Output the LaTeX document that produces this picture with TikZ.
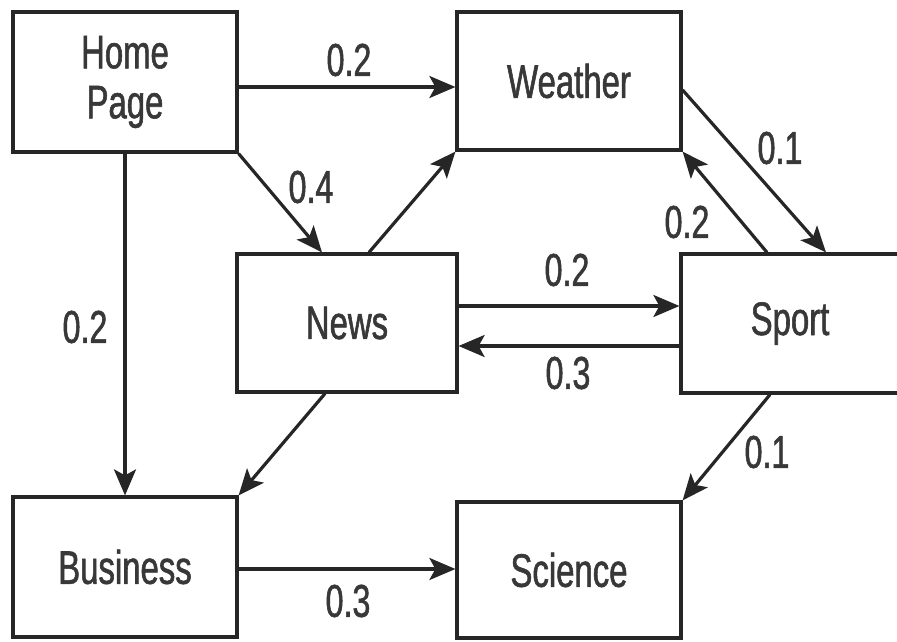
\documentclass[tikz,border=0pt]{standalone}
\usepackage{fontspec}
\setmainfont[FakeStretch=0.7,FakeBold=1.2]{Liberation Sans}
\usetikzlibrary{arrows.meta}
\definecolor{ink}{HTML}{262626}
\definecolor{txt}{HTML}{383838}
\tikzset{
  box/.style={draw=ink, line width=3.2pt, minimum width=#1, inner sep=0pt, text=txt,
    font=\fontsize{47}{50}\selectfont, align=center},
  box/.default=224pt,
  arr/.style={draw=ink, line width=3.2pt, -{Stealth[length=26pt,width=22pt,inset=6pt]}},
  lbl/.style={text=txt, font=\fontsize{46}{48}\selectfont, inner sep=0pt}
}
\begin{document}
\begin{tikzpicture}[x=1pt,y=-1pt]
\useasboundingbox (0,0) rectangle (897,642);
\fill[white] (0,0) rectangle (897,642);
\node[box, minimum height=140pt] (home) at (125,82) {Home\\Page};
\node[box, minimum height=138pt] (weather) at (569,81) {Weather};
\node[box=220pt, minimum height=138pt] (news) at (347,323) {News};
\node[box=218pt, minimum height=139pt] (sport) at (790,323.5) {Sport};
\node[box, minimum height=140pt] (business) at (125,567) {Business};
\node[box, minimum height=136pt] (science) at (569,570) {Science};

\draw[arr] (home.east |- 0,87) -- (weather.west |- 0,87);
\draw[arr] (home.south east) -- (news.north -| 322,0);
\draw[arr] (news.north -| 369,0) -- (weather.south west);
\draw[arr] (home.south) -- (business.north);
\draw[arr] (weather.east |- 0,90) -- (sport.north -| 826,0);
\draw[arr] (sport.north -| 767,0) -- (weather.south east);
\draw[arr] (news.east |- 0,306) -- (sport.west |- 0,306);
\draw[arr] (sport.west |- 0,346) -- (news.east |- 0,346);
\draw[arr] (news.south -| 325,0) -- (business.north east);
\draw[arr] (sport.south -| 770,0) -- (science.north east);
\draw[arr] (business.east |- 0,569) -- (science.west |- 0,569);

\node[lbl] (l1) at (349,60) {0.2};
\node[lbl] (l2) at (311,187) {0.4};
\node[lbl] (l3) at (85,327) {0.2};
\node[lbl] (l4) at (780,148) {0.1};
\node[lbl] (l5) at (687,222) {0.2};
\node[lbl] (l6) at (567,270) {0.2};
\node[lbl] (l7) at (568,373) {0.3};
\node[lbl] (l8) at (767,452) {0.1};
\node[lbl] (l9) at (348,601) {0.3};
\end{tikzpicture}
\end{document}
